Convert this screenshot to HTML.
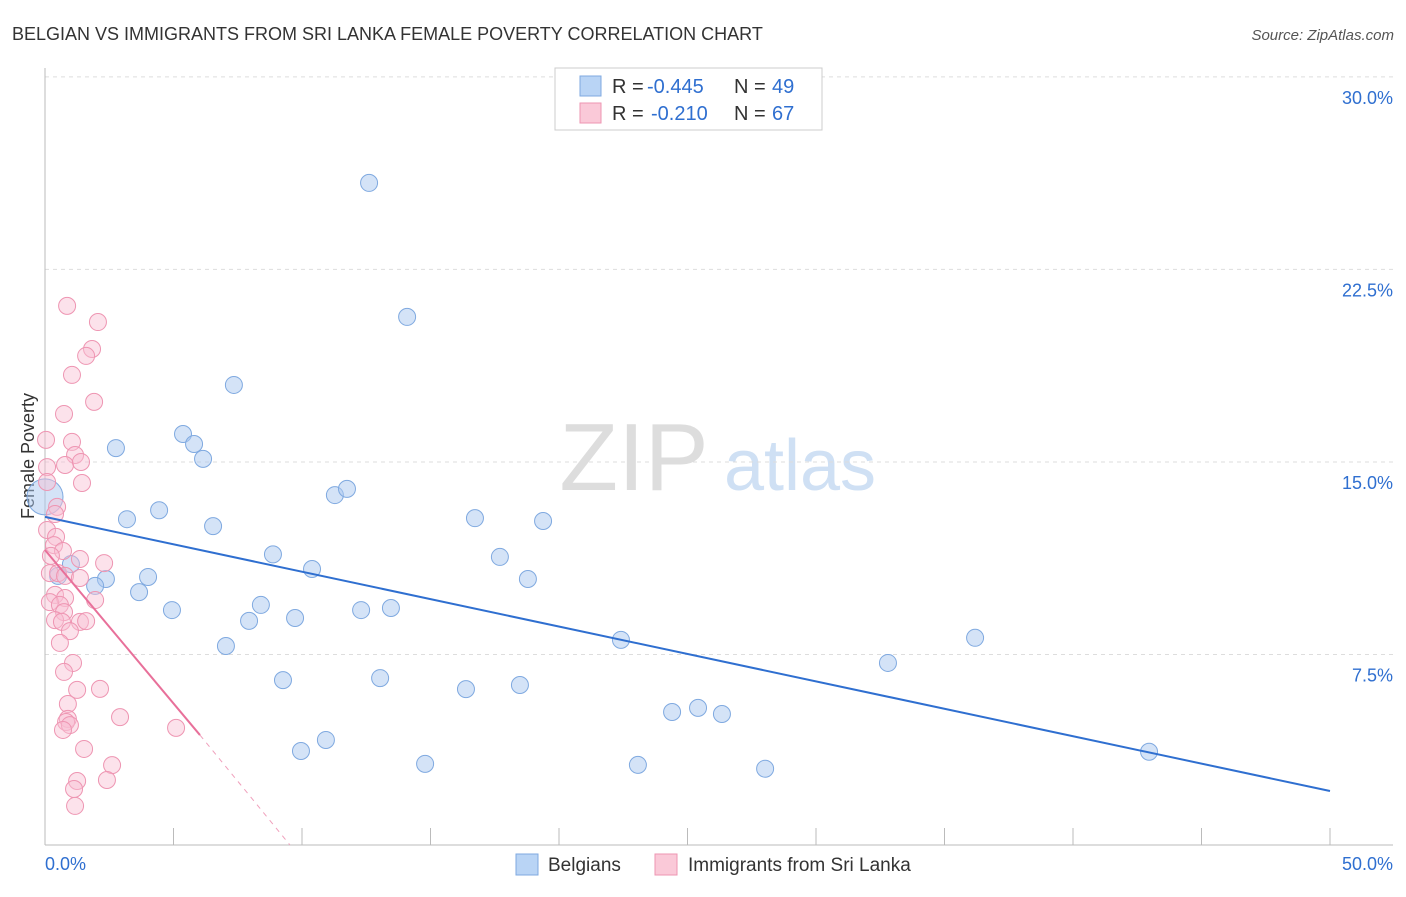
<!DOCTYPE html>
<html><head><meta charset="utf-8"><style>
body{margin:0;background:#fff;font-family:"Liberation Sans",sans-serif}
svg text{font-family:"Liberation Sans",sans-serif}
</style></head><body>
<svg id="c" width="1406" height="892">
<text x="12" y="40" font-size="18" fill="#333">BELGIAN VS IMMIGRANTS FROM SRI LANKA FEMALE POVERTY CORRELATION CHART</text>
<text x="1394" y="40" font-size="15" fill="#555" font-style="italic" text-anchor="end">Source: ZipAtlas.com</text>
<text x="34" y="456" font-size="18" fill="#333" transform="rotate(-90 34 456)" text-anchor="middle">Female Poverty</text>
<g><text x="634" y="490" font-size="96" fill="#ddd" font-family="Liberation Serif" text-anchor="middle">ZIP</text><text x="800" y="490" font-size="72" fill="#cfe0f4" text-anchor="middle">atlas</text></g>
<g id="grid"></g><g id="axes"></g><g id="pts"></g><g id="trend"></g>
<g>
<rect x="555" y="68" width="267" height="62" fill="#fff" stroke="#ccc"/>
<rect x="580" y="76" width="21" height="20" fill="#b9d4f5" stroke="#7fa9e0"/>
<text x="612" y="93" font-size="20" fill="#333">R =</text>
<text x="647" y="93" font-size="20" fill="#2f6fd0">-0.445</text>
<text x="734" y="93" font-size="20" fill="#333">N =</text>
<text x="772" y="93" font-size="20" fill="#2f6fd0">49</text>
<rect x="580" y="103" width="21" height="20" fill="#fac9d8" stroke="#ee95b2"/>
<text x="612" y="120" font-size="20" fill="#333">R =</text>
<text x="651" y="120" font-size="20" fill="#2f6fd0">-0.210</text>
<text x="734" y="120" font-size="20" fill="#333">N =</text>
<text x="772" y="120" font-size="20" fill="#2f6fd0">67</text>
</g>
<g>
<rect x="516" y="854" width="22" height="21" fill="#b9d4f5" stroke="#7fa9e0"/>
<text x="548" y="871" font-size="19" fill="#333">Belgians</text>
<rect x="655" y="854" width="22" height="21" fill="#fac9d8" stroke="#ee95b2"/>
<text x="688" y="871" font-size="19" fill="#333">Immigrants from Sri Lanka</text>
</g>
</svg>
<script>
const yTicks=[7.5,15,22.5,30];
const yTickLabels=["7.5%","15.0%","22.5%","30.0%"];
const xTicks=[0,5,10,15,20,25,30,35,40,45,50];
const belgX=[12.61,14.09,7.35,2.76,5.37,5.80,6.15,0,3.19,4.44,6.54,11.28,11.75,16.73,19.38,8.87,10.39,17.70,18.79,4.01,2.37,1.95,3.66,1.01,0.51,4.94,8.40,7.94,9.73,12.30,13.46,7.04,22.41,36.19,32.80,9.26,13.04,16.38,18.48,24.40,25.41,26.34,9.96,10.93,14.79,23.07,28.02,42.96];
const belgY=[25.87,20.65,18.0,15.54,16.09,15.70,15.12,13.64,12.77,13.12,12.50,13.71,13.95,12.81,12.70,11.40,10.83,11.30,10.44,10.52,10.44,10.17,9.93,11.02,10.56,9.23,9.43,8.81,8.92,9.23,9.31,7.83,8.07,8.15,7.17,6.50,6.58,6.15,6.31,5.26,5.42,5.18,3.74,4.17,3.24,3.20,3.05,3.71];
const sriX=[0.86,2.06,1.83,1.60,1.05,1.91,0.74,0.04,1.05,1.17,0.78,1.40,1.44,0.08,0.08,0.47,0.39,0.08,0.43,0.35,0.70,0.23,1.36,2.30,0.19,0.51,0.78,1.36,0.39,0.78,0.19,0.58,1.95,0.74,0.39,0.66,1.36,1.60,0.97,0.58,1.09,0.74,1.25,2.14,0.89,0.89,0.82,0.97,2.92,0.70,5.10,1.52,2.61,1.25,2.41,1.13,1.17];
const sriY=[21.08,20.45,19.40,19.13,18.39,17.34,16.87,15.86,15.78,15.27,14.88,15.00,14.18,14.80,14.22,13.25,12.97,12.35,12.08,11.76,11.53,11.34,11.22,11.06,10.67,10.67,10.56,10.48,9.82,9.70,9.54,9.43,9.62,9.15,8.84,8.77,8.77,8.80,8.41,7.95,7.17,6.82,6.12,6.16,5.57,4.99,4.87,4.75,5.06,4.56,4.64,3.82,3.19,2.57,2.61,2.26,1.60];
const belgTrend=[[0,12.86],[50,2.18]];
const sriTrend=[[0,11.57],[6.03,4.36]];
const sriTrendExt=[[6.03,4.36],[9.53,0.08]];
const X=v=>45+v*25.7, Y=v=>847-v*25.67;
const NS="http://www.w3.org/2000/svg";
function mk(p,t,a){const e=document.createElementNS(NS,t);for(const k in a)e.setAttribute(k,a[k]);p.appendChild(e);return e;}
const grid=document.getElementById('grid'),axes=document.getElementById('axes'),pts=document.getElementById('pts'),tr=document.getElementById('trend');
yTicks.forEach((t,i)=>{const l=mk(grid,'line',{x1:45,x2:1393,y1:Y(t),y2:Y(t),stroke:'#ddd','stroke-dasharray':'4,4'});


const tx=mk(axes,'text',{x:1393,y:Y(t)+27,'font-size':18,fill:'#2f6fd0','text-anchor':'end'});tx.textContent=yTickLabels[i];

});
mk(axes,'line',{x1:45,x2:45,y1:68,y2:845,stroke:'#bbb'});
mk(axes,'line',{x1:45,x2:1393,y1:845,y2:845,stroke:'#bbb'});
xTicks.forEach(t=>{const l=mk(axes,'line',{x1:X(t),x2:X(t),y1:828,y2:845,stroke:'#bbb'});

});
const x0=mk(axes,'text',{x:45,y:870,'font-size':18,fill:'#2f6fd0'});x0.textContent='0.0%';


const x1=mk(axes,'text',{x:1393,y:870,'font-size':18,fill:'#2f6fd0','text-anchor':'end'});x1.textContent='50.0%';


belgX.forEach((v,i)=>{const c=mk(pts,'circle',{cx:X(v),cy:Y(belgY[i]),r:v===0?18:8.5,fill:'rgba(170,200,240,0.5)',stroke:'#7fa9e0','stroke-width':1});

});
sriX.forEach((v,i)=>{const c=mk(pts,'circle',{cx:X(v),cy:Y(sriY[i]),r:8.5,fill:'rgba(248,190,210,0.45)',stroke:'#ee95b2','stroke-width':1});

});
const b=mk(tr,'line',{x1:X(belgTrend[0][0]),y1:Y(belgTrend[0][1]),x2:X(belgTrend[1][0]),y2:Y(belgTrend[1][1]),stroke:'#2f6fd0','stroke-width':2});


const s=mk(tr,'line',{x1:X(sriTrend[0][0]),y1:Y(sriTrend[0][1]),x2:X(sriTrend[1][0]),y2:Y(sriTrend[1][1]),stroke:'#e8709a','stroke-width':2});


const se=mk(tr,'line',{x1:X(sriTrendExt[0][0]),y1:Y(sriTrendExt[0][1]),x2:X(sriTrendExt[1][0]),y2:Y(sriTrendExt[1][1]),stroke:'#f0a0bc','stroke-width':1,'stroke-dasharray':'5,5'});


</script>
</body></html>
